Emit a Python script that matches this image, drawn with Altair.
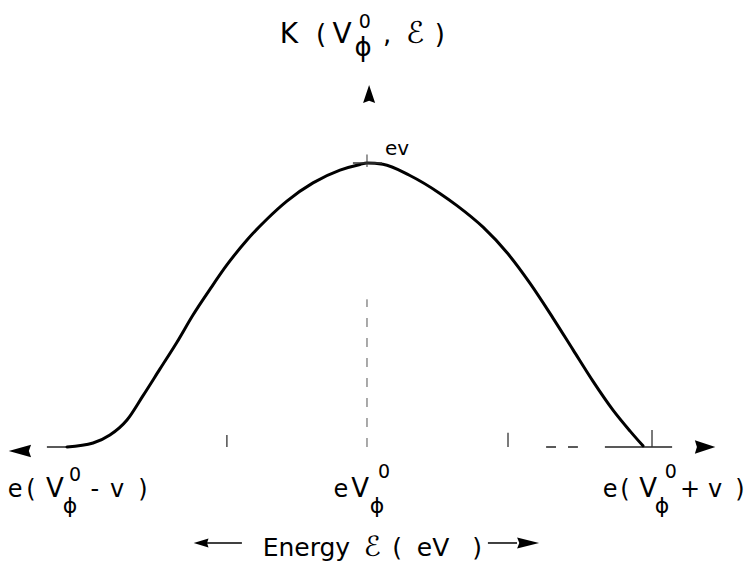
import altair as alt
import pandas as pd

# Energy in units of v measured from eV_phi^0; K normalised to its peak value.
curve_x = [-1.0, -0.913, -0.857, -0.800, -0.747, -0.690, -0.633, -0.580, -0.523,
           -0.467, -0.400, -0.333, -0.267, -0.180, -0.090, -0.023, 0.0, 0.053,
           0.143, 0.243, 0.300, 0.387, 0.467, 0.543, 0.620, 0.687, 0.753,
           0.820, 0.877, 0.920]
curve_k = [0.0, 0.014, 0.042, 0.095, 0.180, 0.275, 0.370, 0.465, 0.556,
           0.641, 0.729, 0.803, 0.866, 0.930, 0.975, 0.995, 1.0, 0.996,
           0.956, 0.893, 0.850, 0.774, 0.684, 0.577, 0.454, 0.342, 0.232,
           0.130, 0.056, 0.004]

# Pieces of the energy axis line (x start, x end) at K = 0
base_x1 = [-1.067, 0.597, 0.67, 0.793]
base_x2 = [-1.0, 0.63, 0.703, 1.017]

# Small vertical marks on the energy axis: position, top
tick_x = [-0.467, 0.47, 0.95]
tick_top = [0.042, 0.05, 0.06]

# Label pieces: text, x, y, font size
lab_text = ["K", "(", "V", "0", "\u03d5", ",", "\u2130", ")",
            "e", "(", "V", "0", "\u03d5", "-", "v", ")",
            "e", "V", "0", "\u03d5",
            "e", "(", "V", "0", "\u03d5", "+", "v", ")",
            "Energy", "\u2130", "(", "eV", ")",
            "ev"]
lab_x = [-0.26, -0.153, -0.083, -0.007, -0.013, 0.067, 0.16, 0.243,
         -1.173, -1.12, -1.04, -0.973, -0.99, -0.907, -0.833, -0.747,
         -0.087, -0.023, 0.057, 0.033,
         0.81, 0.86, 0.937, 1.013, 0.983, 1.077, 1.16, 1.243,
         -0.202, 0.017, 0.10, 0.22, 0.367,
         0.10]
lab_y = [1.4225, 1.4225, 1.4225, 1.475, 1.377, 1.4225, 1.4225, 1.4225,
         -0.176, -0.176, -0.176, -0.120, -0.232, -0.176, -0.176, -0.176,
         -0.176, -0.176, -0.109, -0.232,
         -0.176, -0.176, -0.176, -0.109, -0.232, -0.176, -0.176, -0.176,
         -0.384, -0.384, -0.384, -0.384, -0.384,
         1.028]
lab_size = [28, 26, 28, 19, 26, 26, 30, 26,
            24, 24, 26, 19, 22, 24, 24, 24,
            24, 26, 19, 22,
            24, 24, 26, 19, 22, 24, 24, 24,
            25, 28, 25, 25, 25,
            20]

# Arrowheads: x, y, shape path, size
arrow_x = [-1.157, 1.127, 0.007, -0.553, 0.537]
arrow_y = [-0.014, 0.0, 1.243, -0.338, -0.338]
arrow_shape = [
    "M-1,0 L1,-0.55 L0.8,0 L1,0.55 Z",
    "M1,0 L-1,-0.65 L-0.8,0 L-1,0.65 Z",
    "M0,-1 L0.67,1 L0,0.75 L-0.67,1 Z",
    "M-1,0 L1,-0.6 L0.8,0 L1,0.6 Z",
    "M1,0 L-1,-0.5 L-0.8,0 L-1,0.5 Z",
]
arrow_size = [500, 420, 324, 220, 484]

# Shaft lines of the "Energy" arrows
shaft_x1 = [-0.55, 0.403]
shaft_x2 = [-0.417, 0.50]
shaft_y = [-0.338, -0.338]

X_DOM = [-1.2233, 1.2733]
Y_DOM = [-0.4155, 1.574]
xs = alt.Scale(domain=X_DOM, nice=False, zero=False)
ys = alt.Scale(domain=Y_DOM, nice=False, zero=False)
FONT = "DejaVu Sans"

curve_df = pd.DataFrame({"x": curve_x, "k": curve_k})
base_df = pd.DataFrame({"x1": base_x1, "x2": base_x2, "y": [0.0] * len(base_x1)})
tick_df = pd.DataFrame({"x": tick_x, "y1": [0.0] * len(tick_x), "y2": tick_top})
lab_df = pd.DataFrame({"t": lab_text, "x": lab_x, "y": lab_y, "s": lab_size})
arrow_df = pd.DataFrame({"x": arrow_x, "y": arrow_y, "shape": arrow_shape, "size": arrow_size})
shaft_df = pd.DataFrame({"x1": shaft_x1, "x2": shaft_x2, "y": shaft_y})
center_df = pd.DataFrame({"x": [0.0], "y1": [0.0], "y2": [0.52]})
peak_h = pd.DataFrame({"x1": [-0.047], "x2": [0.05], "y": [1.0]})
peak_v = pd.DataFrame({"x": [0.0], "y1": [0.986], "y2": [1.03]})

curve = alt.Chart(curve_df).mark_line(
    interpolate="monotone", color="black", strokeWidth=3, strokeCap="round"
).encode(
    x=alt.X("x:Q", scale=xs, axis=None),
    y=alt.Y("k:Q", scale=ys, axis=None),
)

baseline = alt.Chart(base_df).mark_rule(color="#222", strokeWidth=1.5).encode(
    x=alt.X("x1:Q", scale=xs, axis=None), x2="x2:Q",
    y=alt.Y("y:Q", scale=ys, axis=None),
)

ticks = alt.Chart(tick_df).mark_rule(color="#333", strokeWidth=1.3).encode(
    x=alt.X("x:Q", scale=xs, axis=None),
    y=alt.Y("y1:Q", scale=ys, axis=None), y2="y2:Q",
)

center = alt.Chart(center_df).mark_rule(
    color="#555", strokeWidth=1, strokeDash=[9, 11]
).encode(
    x=alt.X("x:Q", scale=xs, axis=None),
    y=alt.Y("y1:Q", scale=ys, axis=None), y2="y2:Q",
)

peak_bar = alt.Chart(peak_h).mark_rule(color="#333", strokeWidth=1.5).encode(
    x=alt.X("x1:Q", scale=xs, axis=None), x2="x2:Q",
    y=alt.Y("y:Q", scale=ys, axis=None),
)
peak_tick = alt.Chart(peak_v).mark_rule(color="#333", strokeWidth=1).encode(
    x=alt.X("x:Q", scale=xs, axis=None),
    y=alt.Y("y1:Q", scale=ys, axis=None), y2="y2:Q",
)

shafts = alt.Chart(shaft_df).mark_rule(color="black", strokeWidth=1.5).encode(
    x=alt.X("x1:Q", scale=xs, axis=None), x2="x2:Q",
    y=alt.Y("y:Q", scale=ys, axis=None),
)

arrows = alt.Chart(arrow_df).mark_point(
    filled=True, color="black", opacity=1, strokeWidth=0
).encode(
    x=alt.X("x:Q", scale=xs, axis=None),
    y=alt.Y("y:Q", scale=ys, axis=None),
    shape=alt.Shape("shape:N", scale=None, legend=None),
    size=alt.Size("size:Q", scale=None, legend=None),
)

labels = alt.Chart(lab_df).mark_text(
    font=FONT, color="black", align="center", baseline="alphabetic"
).encode(
    x=alt.X("x:Q", scale=xs, axis=None),
    y=alt.Y("y:Q", scale=ys, axis=None),
    text="t:N",
    size=alt.Size("s:Q", scale=None, legend=None),
)

chart = alt.layer(
    center, baseline, ticks, curve, peak_bar, peak_tick, shafts, arrows, labels
).properties(
    width=749, height=565, padding=0, autosize=alt.AutoSizeParams(type="none"),
    background="white",
).configure_view(stroke=None)

chart.save("out.html", embed_options={"renderer": "svg", "actions": False})
